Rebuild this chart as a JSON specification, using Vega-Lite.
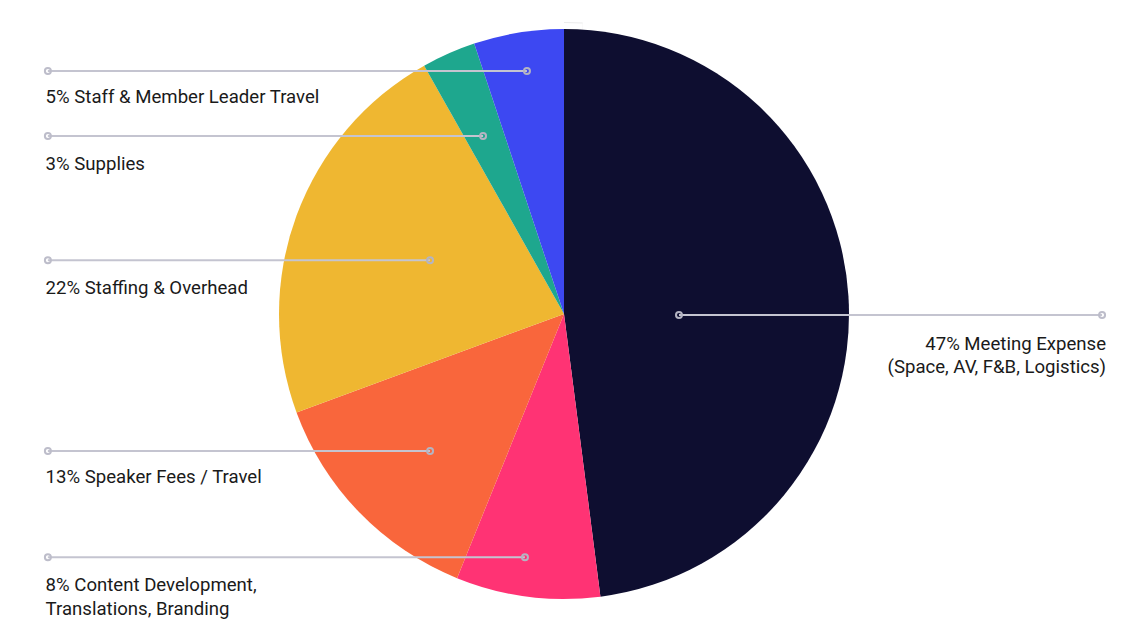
{
  "$schema": "https://vega.github.io/schema/vega-lite/v6.json",
  "width": 1140,
  "height": 637,
  "autosize": {"type": "fit", "contains": "padding"},
  "padding": {"left": 0, "top": 0, "right": 12, "bottom": 9},
  "background": "white",
  "config": {"view": {"stroke": null}, "text": {"font": "Roboto"}},
  "datasets": {
    "slices": [
      {"category": "Meeting Expense", "value": 47, "order": 1},
      {"category": "Content Development", "value": 8, "order": 2},
      {"category": "Speaker Fees / Travel", "value": 13, "order": 3},
      {"category": "Staffing & Overhead", "value": 22, "order": 4},
      {"category": "Supplies", "value": 3, "order": 5},
      {"category": "Staff & Member Leader Travel", "value": 5, "order": 6}
    ],
    "labels": [
      {"category": "Staff & Member Leader Travel", "side": "left", "xOut": -1.811, "xIn": -0.130, "y": 0.853, "tx": -1.819, "ty": 0.740, "text": ["5% Staff & Member Leader Travel"]},
      {"category": "Supplies", "side": "left", "xOut": -1.811, "xIn": -0.284, "y": 0.625, "tx": -1.819, "ty": 0.505, "text": ["3% Supplies"]},
      {"category": "Staffing & Overhead", "side": "left", "xOut": -1.811, "xIn": -0.470, "y": 0.189, "tx": -1.819, "ty": 0.070, "text": ["22% Staffing & Overhead"]},
      {"category": "Speaker Fees / Travel", "side": "left", "xOut": -1.811, "xIn": -0.470, "y": -0.481, "tx": -1.819, "ty": -0.593, "text": ["13% Speaker Fees / Travel"]},
      {"category": "Content Development", "side": "left", "xOut": -1.811, "xIn": -0.137, "y": -0.854, "tx": -1.819, "ty": -0.972, "text": ["8% Content Development,", "Translations, Branding"]},
      {"category": "Meeting Expense", "side": "right", "xOut": 1.888, "xIn": 0.4035, "y": -0.0035, "tx": 1.902, "ty": -0.126, "text": ["47% Meeting Expense", "(Space, AV, F&B, Logistics)"]}
    ]
  },
  "layer": [
    {
      "data": {"values": [{"ring": 1}]},
      "mark": {"type": "arc", "outerRadius": 292, "fill": "#ebebeb"},
      "encoding": {"theta": {"field": "ring", "type": "quantitative"}}
    },
    {
      "data": {"values": [{"ring": 1}]},
      "mark": {"type": "arc", "outerRadius": 291, "fill": "white"},
      "encoding": {"theta": {"field": "ring", "type": "quantitative"}}
    },
    {
      "data": {"name": "slices"},
      "mark": {"type": "arc", "outerRadius": 285},
      "encoding": {
        "theta": {"field": "value", "type": "quantitative", "stack": true},
        "order": {"field": "order", "type": "quantitative", "sort": "ascending"},
        "color": {
          "field": "category",
          "type": "nominal",
          "legend": null,
          "scale": {
            "domain": ["Meeting Expense", "Content Development", "Speaker Fees / Travel", "Staffing & Overhead", "Supplies", "Staff & Member Leader Travel"],
            "range": ["#0e0e30", "#ff3374", "#f9663c", "#efb731", "#1ea78e", "#3d48f2"]
          }
        }
      }
    },
    {
      "data": {"name": "labels"},
      "mark": {"type": "rule", "stroke": "#c4c4d0", "strokeWidth": 2},
      "encoding": {
        "x": {"field": "xOut", "type": "quantitative", "axis": null, "scale": {"domain": [-1.979, 1.979], "nice": false, "zero": false}},
        "x2": {"field": "xIn"},
        "y": {"field": "y", "type": "quantitative", "axis": null, "scale": {"domain": [-1.102, 1.102], "nice": false, "zero": false}}
      }
    },
    {
      "data": {"name": "labels"},
      "mark": {"type": "point", "shape": "circle", "filled": false, "stroke": "#bdbdca", "strokeWidth": 2, "size": 36, "opacity": 1},
      "encoding": {
        "x": {"field": "xOut", "type": "quantitative", "axis": null},
        "y": {"field": "y", "type": "quantitative", "axis": null}
      }
    },
    {
      "data": {"name": "labels"},
      "mark": {"type": "point", "shape": "circle", "filled": false, "stroke": "#b4b4c2", "strokeWidth": 2, "size": 36, "opacity": 1},
      "encoding": {
        "x": {"field": "xIn", "type": "quantitative", "axis": null},
        "y": {"field": "y", "type": "quantitative", "axis": null}
      }
    },
    {
      "data": {"name": "labels"},
      "transform": [{"filter": "datum.side === 'left'"}],
      "mark": {"type": "text", "align": "left", "baseline": "alphabetic", "fontSize": 18.6, "color": "#1a1a1a", "lineHeight": 24, "font": "Roboto"},
      "encoding": {
        "x": {"field": "tx", "type": "quantitative", "axis": null},
        "y": {"field": "ty", "type": "quantitative", "axis": null},
        "text": {"field": "text"}
      }
    },
    {
      "data": {"name": "labels"},
      "transform": [{"filter": "datum.side === 'right'"}],
      "mark": {"type": "text", "align": "right", "baseline": "alphabetic", "fontSize": 18.6, "color": "#1a1a1a", "lineHeight": 23, "font": "Roboto"},
      "encoding": {
        "x": {"field": "tx", "type": "quantitative", "axis": null},
        "y": {"field": "ty", "type": "quantitative", "axis": null},
        "text": {"field": "text"}
      }
    }
  ]
}
